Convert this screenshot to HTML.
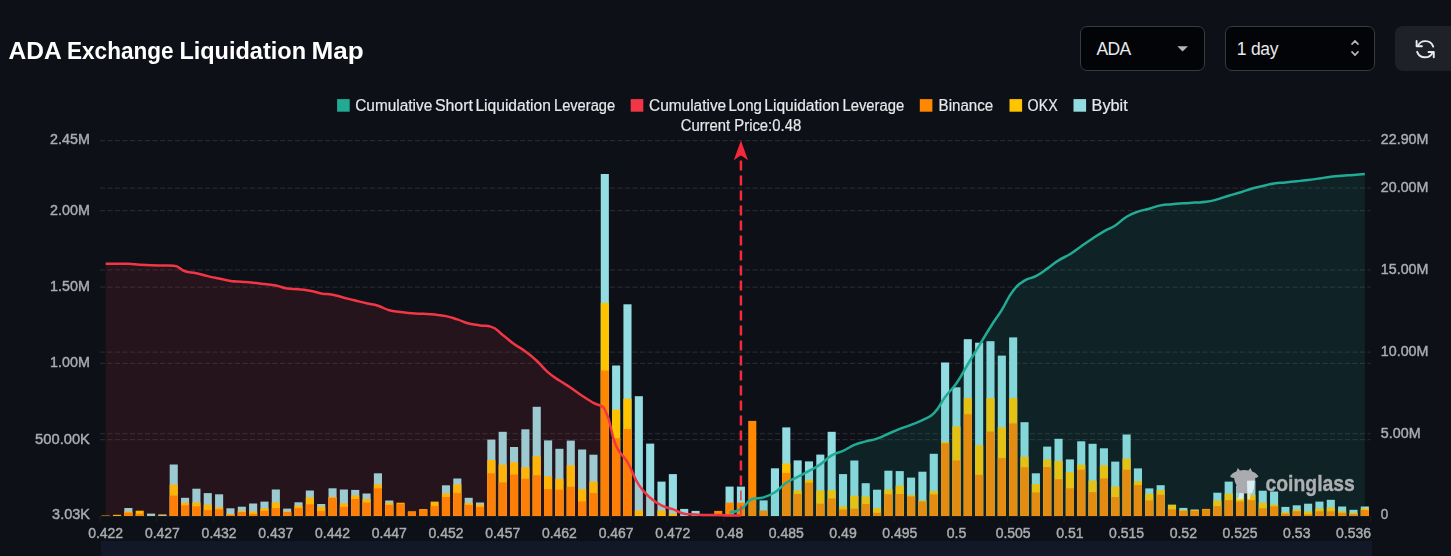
<!DOCTYPE html>
<html><head><meta charset="utf-8"><title>ADA Exchange Liquidation Map</title>
<style>
html,body{margin:0;padding:0;background:#0d1017;}
body{width:1451px;height:556px;position:relative;overflow:hidden;font-family:"Liberation Sans",sans-serif;}
.title{position:absolute;left:8.5px;top:37.3px;font-weight:700;font-size:24px;line-height:28px;color:#fff;white-space:nowrap;letter-spacing:-0.22px}
.sel{position:absolute;top:26px;height:45px;box-sizing:border-box;border:1.25px solid #363a41;border-radius:7px;background:#020408;color:#e8eaed;font-size:17.5px;line-height:45.5px;}
.btn{position:absolute;left:1395px;top:26px;width:62px;height:45px;border-radius:8px;background:#1e2228;}
</style></head><body>
<div class="sel" style="left:1080px;width:125px;padding-left:15.5px;letter-spacing:-0.6px">ADA
<svg width="12" height="7" viewBox="0 0 12 7" style="position:absolute;left:96px;top:19px"><path d="M0.3,0.2 L10.9,0.2 L5.6,5.6 Z" fill="#b4b7bc"/></svg></div>
<div class="sel" style="left:1225px;width:150px;padding-left:10.8px;letter-spacing:-0.25px">1 day
<svg width="10" height="18" viewBox="0 0 10 18" style="position:absolute;left:125px;top:12px"><path d="M1.0,5.1 L4,1.9 L7.0,5.1 M1.0,12.9 L4,16.1 L7.0,12.9" fill="none" stroke="#b4b7bc" stroke-width="1.6" stroke-linecap="round" stroke-linejoin="round"/></svg></div>
<div class="btn"><svg width="26.4" height="26.4" viewBox="0 0 24 24" style="position:absolute;left:16.6px;top:9.6px"><g fill="none" stroke="#e8eaed" stroke-width="1.75" stroke-linecap="round" stroke-linejoin="round"><path d="M4.2,4.6 L4.2,9.4 L9,9.4"/><path d="M19.8,19.4 L19.8,14.6 L15,14.6"/><path d="M5.2,9.2 A7.6,7.6 0 0 1 19.3,9.6"/><path d="M18.8,14.8 A7.6,7.6 0 0 1 4.7,14.4"/></g></svg></div>
<svg width="1451" height="556" viewBox="0 0 1451 556" style="position:absolute;left:0;top:0;will-change:transform">
<rect x="101" y="541" width="1271" height="20" fill="#121828"/>
<line x1="100.0" x2="1370.5" y1="140.5" y2="140.5" stroke="#25282e" stroke-width="1.25" stroke-dasharray="5 2.5"/>
<line x1="100.0" x2="1370.5" y1="210.7" y2="210.7" stroke="#25282e" stroke-width="1.25" stroke-dasharray="5 2.5"/>
<line x1="100.0" x2="1370.5" y1="287.0" y2="287.0" stroke="#25282e" stroke-width="1.25" stroke-dasharray="5 2.5"/>
<line x1="100.0" x2="1370.5" y1="363.4" y2="363.4" stroke="#25282e" stroke-width="1.25" stroke-dasharray="5 2.5"/>
<line x1="100.0" x2="1370.5" y1="439.7" y2="439.7" stroke="#25282e" stroke-width="1.25" stroke-dasharray="5 2.5"/>
<line x1="100.0" x2="1370.5" y1="188.1" y2="188.1" stroke="#25282e" stroke-width="1.25" stroke-dasharray="5 2.5"/>
<line x1="100.0" x2="1370.5" y1="269.8" y2="269.8" stroke="#25282e" stroke-width="1.25" stroke-dasharray="5 2.5"/>
<line x1="100.0" x2="1370.5" y1="352.0" y2="352.0" stroke="#25282e" stroke-width="1.25" stroke-dasharray="5 2.5"/>
<line x1="100.0" x2="1370.5" y1="433.6" y2="433.6" stroke="#25282e" stroke-width="1.25" stroke-dasharray="5 2.5"/>
<line x1="100.0" x2="1370.5" y1="516.4" y2="516.4" stroke="#181c23" stroke-width="1.25"/>
<line x1="100.00" x2="100.00" y1="516" y2="522" stroke="#181c23" stroke-width="1.25"/>
<line x1="156.72" x2="156.72" y1="516" y2="522" stroke="#181c23" stroke-width="1.25"/>
<line x1="213.44" x2="213.44" y1="516" y2="522" stroke="#181c23" stroke-width="1.25"/>
<line x1="270.16" x2="270.16" y1="516" y2="522" stroke="#181c23" stroke-width="1.25"/>
<line x1="326.88" x2="326.88" y1="516" y2="522" stroke="#181c23" stroke-width="1.25"/>
<line x1="383.59" x2="383.59" y1="516" y2="522" stroke="#181c23" stroke-width="1.25"/>
<line x1="440.31" x2="440.31" y1="516" y2="522" stroke="#181c23" stroke-width="1.25"/>
<line x1="497.03" x2="497.03" y1="516" y2="522" stroke="#181c23" stroke-width="1.25"/>
<line x1="553.75" x2="553.75" y1="516" y2="522" stroke="#181c23" stroke-width="1.25"/>
<line x1="610.47" x2="610.47" y1="516" y2="522" stroke="#181c23" stroke-width="1.25"/>
<line x1="667.19" x2="667.19" y1="516" y2="522" stroke="#181c23" stroke-width="1.25"/>
<line x1="723.91" x2="723.91" y1="516" y2="522" stroke="#181c23" stroke-width="1.25"/>
<line x1="780.62" x2="780.62" y1="516" y2="522" stroke="#181c23" stroke-width="1.25"/>
<line x1="837.34" x2="837.34" y1="516" y2="522" stroke="#181c23" stroke-width="1.25"/>
<line x1="894.06" x2="894.06" y1="516" y2="522" stroke="#181c23" stroke-width="1.25"/>
<line x1="950.78" x2="950.78" y1="516" y2="522" stroke="#181c23" stroke-width="1.25"/>
<line x1="1007.50" x2="1007.50" y1="516" y2="522" stroke="#181c23" stroke-width="1.25"/>
<line x1="1064.22" x2="1064.22" y1="516" y2="522" stroke="#181c23" stroke-width="1.25"/>
<line x1="1120.94" x2="1120.94" y1="516" y2="522" stroke="#181c23" stroke-width="1.25"/>
<line x1="1177.66" x2="1177.66" y1="516" y2="522" stroke="#181c23" stroke-width="1.25"/>
<line x1="1234.38" x2="1234.38" y1="516" y2="522" stroke="#181c23" stroke-width="1.25"/>
<line x1="1291.09" x2="1291.09" y1="516" y2="522" stroke="#181c23" stroke-width="1.25"/>
<line x1="1347.81" x2="1347.81" y1="516" y2="522" stroke="#181c23" stroke-width="1.25"/>
<line x1="1370.5" x2="1370.5" y1="516" y2="522" stroke="#181c23" stroke-width="1.25"/>
<rect x="101.62" y="515.65" width="8.1" height="0.35" fill="#ffc400"/>
<rect x="101.62" y="515.75" width="8.1" height="0.25" fill="#ff8800"/>
<rect x="112.97" y="514.80" width="8.1" height="1.20" fill="#ffc400"/>
<rect x="112.97" y="515.70" width="8.1" height="0.30" fill="#ff8800"/>
<rect x="124.31" y="508.00" width="8.1" height="8.00" fill="#93dce2"/>
<rect x="124.31" y="511.60" width="8.1" height="4.40" fill="#ffc400"/>
<rect x="124.31" y="512.60" width="8.1" height="3.40" fill="#ff8800"/>
<rect x="135.65" y="510.70" width="8.1" height="5.30" fill="#ffc400"/>
<rect x="135.65" y="513.80" width="8.1" height="2.20" fill="#ff8800"/>
<rect x="147.00" y="513.60" width="8.1" height="2.40" fill="#93dce2"/>
<rect x="147.00" y="515.80" width="8.1" height="0.20" fill="#ffc400"/>
<rect x="147.00" y="515.90" width="8.1" height="0.10" fill="#ff8800"/>
<rect x="158.34" y="514.40" width="8.1" height="1.60" fill="#93dce2"/>
<rect x="158.34" y="515.20" width="8.1" height="0.80" fill="#ffc400"/>
<rect x="158.34" y="515.80" width="8.1" height="0.20" fill="#ff8800"/>
<rect x="169.68" y="464.50" width="8.1" height="51.50" fill="#93dce2"/>
<rect x="169.68" y="484.70" width="8.1" height="31.30" fill="#ffc400"/>
<rect x="169.68" y="495.60" width="8.1" height="20.40" fill="#ff8800"/>
<rect x="181.03" y="497.80" width="8.1" height="18.20" fill="#93dce2"/>
<rect x="181.03" y="502.50" width="8.1" height="13.50" fill="#ffc400"/>
<rect x="181.03" y="505.30" width="8.1" height="10.70" fill="#ff8800"/>
<rect x="192.37" y="488.70" width="8.1" height="27.30" fill="#93dce2"/>
<rect x="192.37" y="502.50" width="8.1" height="13.50" fill="#ffc400"/>
<rect x="192.37" y="506.30" width="8.1" height="9.70" fill="#ff8800"/>
<rect x="203.72" y="493.10" width="8.1" height="22.90" fill="#93dce2"/>
<rect x="203.72" y="504.60" width="8.1" height="11.40" fill="#ffc400"/>
<rect x="203.72" y="510.10" width="8.1" height="5.90" fill="#ff8800"/>
<rect x="215.06" y="494.30" width="8.1" height="21.70" fill="#93dce2"/>
<rect x="215.06" y="507.30" width="8.1" height="8.70" fill="#ffc400"/>
<rect x="215.06" y="509.30" width="8.1" height="6.70" fill="#ff8800"/>
<rect x="226.40" y="508.30" width="8.1" height="7.70" fill="#93dce2"/>
<rect x="226.40" y="514.00" width="8.1" height="2.00" fill="#ffc400"/>
<rect x="226.40" y="514.80" width="8.1" height="1.20" fill="#ff8800"/>
<rect x="237.75" y="506.70" width="8.1" height="9.30" fill="#93dce2"/>
<rect x="237.75" y="511.00" width="8.1" height="5.00" fill="#ffc400"/>
<rect x="237.75" y="512.00" width="8.1" height="4.00" fill="#ff8800"/>
<rect x="249.09" y="503.50" width="8.1" height="12.50" fill="#93dce2"/>
<rect x="249.09" y="511.50" width="8.1" height="4.50" fill="#ffc400"/>
<rect x="249.09" y="514.00" width="8.1" height="2.00" fill="#ff8800"/>
<rect x="260.43" y="501.60" width="8.1" height="14.40" fill="#93dce2"/>
<rect x="260.43" y="508.30" width="8.1" height="7.70" fill="#ffc400"/>
<rect x="260.43" y="510.90" width="8.1" height="5.10" fill="#ff8800"/>
<rect x="271.78" y="489.50" width="8.1" height="26.50" fill="#93dce2"/>
<rect x="271.78" y="502.40" width="8.1" height="13.60" fill="#ffc400"/>
<rect x="271.78" y="508.10" width="8.1" height="7.90" fill="#ff8800"/>
<rect x="283.12" y="508.60" width="8.1" height="7.40" fill="#93dce2"/>
<rect x="283.12" y="511.40" width="8.1" height="4.60" fill="#ffc400"/>
<rect x="283.12" y="512.00" width="8.1" height="4.00" fill="#ff8800"/>
<rect x="294.47" y="502.30" width="8.1" height="13.70" fill="#93dce2"/>
<rect x="294.47" y="505.70" width="8.1" height="10.30" fill="#ffc400"/>
<rect x="294.47" y="508.10" width="8.1" height="7.90" fill="#ff8800"/>
<rect x="305.81" y="490.50" width="8.1" height="25.50" fill="#93dce2"/>
<rect x="305.81" y="497.40" width="8.1" height="18.60" fill="#ffc400"/>
<rect x="305.81" y="504.30" width="8.1" height="11.70" fill="#ff8800"/>
<rect x="317.15" y="504.00" width="8.1" height="12.00" fill="#93dce2"/>
<rect x="317.15" y="506.60" width="8.1" height="9.40" fill="#ffc400"/>
<rect x="317.15" y="511.10" width="8.1" height="4.90" fill="#ff8800"/>
<rect x="328.50" y="488.30" width="8.1" height="27.70" fill="#93dce2"/>
<rect x="328.50" y="497.00" width="8.1" height="19.00" fill="#ffc400"/>
<rect x="328.50" y="497.80" width="8.1" height="18.20" fill="#ff8800"/>
<rect x="339.84" y="489.50" width="8.1" height="26.50" fill="#93dce2"/>
<rect x="339.84" y="503.30" width="8.1" height="12.70" fill="#ffc400"/>
<rect x="339.84" y="506.90" width="8.1" height="9.10" fill="#ff8800"/>
<rect x="351.18" y="489.90" width="8.1" height="26.10" fill="#93dce2"/>
<rect x="351.18" y="495.40" width="8.1" height="20.60" fill="#ffc400"/>
<rect x="351.18" y="499.00" width="8.1" height="17.00" fill="#ff8800"/>
<rect x="362.53" y="493.50" width="8.1" height="22.50" fill="#93dce2"/>
<rect x="362.53" y="499.00" width="8.1" height="17.00" fill="#ffc400"/>
<rect x="362.53" y="502.60" width="8.1" height="13.40" fill="#ff8800"/>
<rect x="373.87" y="473.30" width="8.1" height="42.70" fill="#93dce2"/>
<rect x="373.87" y="484.30" width="8.1" height="31.70" fill="#ffc400"/>
<rect x="373.87" y="488.30" width="8.1" height="27.70" fill="#ff8800"/>
<rect x="385.22" y="500.50" width="8.1" height="15.50" fill="#93dce2"/>
<rect x="385.22" y="502.90" width="8.1" height="13.10" fill="#ffc400"/>
<rect x="385.22" y="504.90" width="8.1" height="11.10" fill="#ff8800"/>
<rect x="396.56" y="502.70" width="8.1" height="13.30" fill="#ffc400"/>
<rect x="396.56" y="503.70" width="8.1" height="12.30" fill="#ff8800"/>
<rect x="407.90" y="511.40" width="8.1" height="4.60" fill="#ffc400"/>
<rect x="407.90" y="511.70" width="8.1" height="4.30" fill="#ff8800"/>
<rect x="419.25" y="509.10" width="8.1" height="6.90" fill="#ffc400"/>
<rect x="419.25" y="509.70" width="8.1" height="6.30" fill="#ff8800"/>
<rect x="430.59" y="501.60" width="8.1" height="14.40" fill="#ffc400"/>
<rect x="430.59" y="506.10" width="8.1" height="9.90" fill="#ff8800"/>
<rect x="441.93" y="485.30" width="8.1" height="30.70" fill="#93dce2"/>
<rect x="441.93" y="493.40" width="8.1" height="22.60" fill="#ffc400"/>
<rect x="441.93" y="497.00" width="8.1" height="19.00" fill="#ff8800"/>
<rect x="453.28" y="478.50" width="8.1" height="37.50" fill="#93dce2"/>
<rect x="453.28" y="484.40" width="8.1" height="31.60" fill="#ffc400"/>
<rect x="453.28" y="493.10" width="8.1" height="22.90" fill="#ff8800"/>
<rect x="464.62" y="497.80" width="8.1" height="18.20" fill="#93dce2"/>
<rect x="464.62" y="502.90" width="8.1" height="13.10" fill="#ffc400"/>
<rect x="464.62" y="504.90" width="8.1" height="11.10" fill="#ff8800"/>
<rect x="475.97" y="502.50" width="8.1" height="13.50" fill="#93dce2"/>
<rect x="475.97" y="504.50" width="8.1" height="11.50" fill="#ffc400"/>
<rect x="475.97" y="506.90" width="8.1" height="9.10" fill="#ff8800"/>
<rect x="487.31" y="439.60" width="8.1" height="76.40" fill="#93dce2"/>
<rect x="487.31" y="460.00" width="8.1" height="56.00" fill="#ffc400"/>
<rect x="487.31" y="473.30" width="8.1" height="42.70" fill="#ff8800"/>
<rect x="498.65" y="431.80" width="8.1" height="84.20" fill="#93dce2"/>
<rect x="498.65" y="464.60" width="8.1" height="51.40" fill="#ffc400"/>
<rect x="498.65" y="482.40" width="8.1" height="33.60" fill="#ff8800"/>
<rect x="510.00" y="447.00" width="8.1" height="69.00" fill="#93dce2"/>
<rect x="510.00" y="462.20" width="8.1" height="53.80" fill="#ffc400"/>
<rect x="510.00" y="474.50" width="8.1" height="41.50" fill="#ff8800"/>
<rect x="521.34" y="429.30" width="8.1" height="86.70" fill="#93dce2"/>
<rect x="521.34" y="467.30" width="8.1" height="48.70" fill="#ffc400"/>
<rect x="521.34" y="478.80" width="8.1" height="37.20" fill="#ff8800"/>
<rect x="532.68" y="406.80" width="8.1" height="109.20" fill="#93dce2"/>
<rect x="532.68" y="456.30" width="8.1" height="59.70" fill="#ffc400"/>
<rect x="532.68" y="475.30" width="8.1" height="40.70" fill="#ff8800"/>
<rect x="544.03" y="440.40" width="8.1" height="75.60" fill="#93dce2"/>
<rect x="544.03" y="476.20" width="8.1" height="39.80" fill="#ffc400"/>
<rect x="544.03" y="489.10" width="8.1" height="26.90" fill="#ff8800"/>
<rect x="555.37" y="448.80" width="8.1" height="67.20" fill="#93dce2"/>
<rect x="555.37" y="478.80" width="8.1" height="37.20" fill="#ffc400"/>
<rect x="555.37" y="489.70" width="8.1" height="26.30" fill="#ff8800"/>
<rect x="566.72" y="440.60" width="8.1" height="75.40" fill="#93dce2"/>
<rect x="566.72" y="465.30" width="8.1" height="50.70" fill="#ffc400"/>
<rect x="566.72" y="486.70" width="8.1" height="29.30" fill="#ff8800"/>
<rect x="578.06" y="449.50" width="8.1" height="66.50" fill="#93dce2"/>
<rect x="578.06" y="489.10" width="8.1" height="26.90" fill="#ffc400"/>
<rect x="578.06" y="501.40" width="8.1" height="14.60" fill="#ff8800"/>
<rect x="589.40" y="454.70" width="8.1" height="61.30" fill="#93dce2"/>
<rect x="589.40" y="481.60" width="8.1" height="34.40" fill="#ffc400"/>
<rect x="589.40" y="493.10" width="8.1" height="22.90" fill="#ff8800"/>
<rect x="600.75" y="174.00" width="8.1" height="342.00" fill="#93dce2"/>
<rect x="600.75" y="303.00" width="8.1" height="213.00" fill="#ffc400"/>
<rect x="600.75" y="370.50" width="8.1" height="145.50" fill="#ff8800"/>
<rect x="612.09" y="365.50" width="8.1" height="150.50" fill="#93dce2"/>
<rect x="612.09" y="409.60" width="8.1" height="106.40" fill="#ffc400"/>
<rect x="612.09" y="438.20" width="8.1" height="77.80" fill="#ff8800"/>
<rect x="623.43" y="304.30" width="8.1" height="211.70" fill="#93dce2"/>
<rect x="623.43" y="398.70" width="8.1" height="117.30" fill="#ffc400"/>
<rect x="623.43" y="428.90" width="8.1" height="87.10" fill="#ff8800"/>
<rect x="634.78" y="396.20" width="8.1" height="119.80" fill="#93dce2"/>
<rect x="634.78" y="510.50" width="8.1" height="5.50" fill="#ffc400"/>
<rect x="646.12" y="443.60" width="8.1" height="72.40" fill="#93dce2"/>
<rect x="657.47" y="481.60" width="8.1" height="34.40" fill="#93dce2"/>
<rect x="657.47" y="510.50" width="8.1" height="5.50" fill="#ffc400"/>
<rect x="668.81" y="474.10" width="8.1" height="41.90" fill="#93dce2"/>
<rect x="668.81" y="513.60" width="8.1" height="2.40" fill="#ffc400"/>
<rect x="680.15" y="508.90" width="8.1" height="7.10" fill="#93dce2"/>
<rect x="691.50" y="510.90" width="8.1" height="5.10" fill="#93dce2"/>
<rect x="714.18" y="510.90" width="8.1" height="5.10" fill="#ff8800"/>
<rect x="725.53" y="486.60" width="8.1" height="29.40" fill="#93dce2"/>
<rect x="725.53" y="502.60" width="8.1" height="13.40" fill="#ff8800"/>
<rect x="736.87" y="486.60" width="8.1" height="29.40" fill="#93dce2"/>
<rect x="736.87" y="502.60" width="8.1" height="13.40" fill="#ff8800"/>
<rect x="748.22" y="420.90" width="8.1" height="95.10" fill="#ff8800"/>
<rect x="759.56" y="500.40" width="8.1" height="15.60" fill="#93dce2"/>
<rect x="759.56" y="510.50" width="8.1" height="5.50" fill="#ff8800"/>
<rect x="770.90" y="468.30" width="8.1" height="47.70" fill="#93dce2"/>
<rect x="782.25" y="427.40" width="8.1" height="88.60" fill="#93dce2"/>
<rect x="782.25" y="463.40" width="8.1" height="52.60" fill="#ffc400"/>
<rect x="782.25" y="472.90" width="8.1" height="43.10" fill="#ff8800"/>
<rect x="793.59" y="460.40" width="8.1" height="55.60" fill="#93dce2"/>
<rect x="793.59" y="490.40" width="8.1" height="25.60" fill="#ffc400"/>
<rect x="793.59" y="494.00" width="8.1" height="22.00" fill="#ff8800"/>
<rect x="804.93" y="461.40" width="8.1" height="54.60" fill="#93dce2"/>
<rect x="804.93" y="479.80" width="8.1" height="36.20" fill="#ffc400"/>
<rect x="804.93" y="482.80" width="8.1" height="33.20" fill="#ff8800"/>
<rect x="816.28" y="454.60" width="8.1" height="61.40" fill="#93dce2"/>
<rect x="816.28" y="490.40" width="8.1" height="25.60" fill="#ffc400"/>
<rect x="816.28" y="503.70" width="8.1" height="12.30" fill="#ff8800"/>
<rect x="827.62" y="431.80" width="8.1" height="84.20" fill="#93dce2"/>
<rect x="827.62" y="490.10" width="8.1" height="25.90" fill="#ffc400"/>
<rect x="827.62" y="498.40" width="8.1" height="17.60" fill="#ff8800"/>
<rect x="838.97" y="474.10" width="8.1" height="41.90" fill="#93dce2"/>
<rect x="838.97" y="506.30" width="8.1" height="9.70" fill="#ffc400"/>
<rect x="838.97" y="509.50" width="8.1" height="6.50" fill="#ff8800"/>
<rect x="850.31" y="460.50" width="8.1" height="55.50" fill="#93dce2"/>
<rect x="850.31" y="495.70" width="8.1" height="20.30" fill="#ffc400"/>
<rect x="850.31" y="508.70" width="8.1" height="7.30" fill="#ff8800"/>
<rect x="861.65" y="483.20" width="8.1" height="32.80" fill="#93dce2"/>
<rect x="861.65" y="496.50" width="8.1" height="19.50" fill="#ffc400"/>
<rect x="861.65" y="504.00" width="8.1" height="12.00" fill="#ff8800"/>
<rect x="873.00" y="489.70" width="8.1" height="26.30" fill="#93dce2"/>
<rect x="873.00" y="508.10" width="8.1" height="7.90" fill="#ffc400"/>
<rect x="873.00" y="512.80" width="8.1" height="3.20" fill="#ff8800"/>
<rect x="884.34" y="470.70" width="8.1" height="45.30" fill="#93dce2"/>
<rect x="884.34" y="489.50" width="8.1" height="26.50" fill="#ffc400"/>
<rect x="884.34" y="494.20" width="8.1" height="21.80" fill="#ff8800"/>
<rect x="895.68" y="471.10" width="8.1" height="44.90" fill="#93dce2"/>
<rect x="895.68" y="485.70" width="8.1" height="30.30" fill="#ffc400"/>
<rect x="895.68" y="494.00" width="8.1" height="22.00" fill="#ff8800"/>
<rect x="907.03" y="477.60" width="8.1" height="38.40" fill="#93dce2"/>
<rect x="907.03" y="495.00" width="8.1" height="21.00" fill="#ffc400"/>
<rect x="907.03" y="496.40" width="8.1" height="19.60" fill="#ff8800"/>
<rect x="918.37" y="471.70" width="8.1" height="44.30" fill="#93dce2"/>
<rect x="918.37" y="500.60" width="8.1" height="15.40" fill="#ffc400"/>
<rect x="918.37" y="501.40" width="8.1" height="14.60" fill="#ff8800"/>
<rect x="929.72" y="453.80" width="8.1" height="62.20" fill="#93dce2"/>
<rect x="929.72" y="491.00" width="8.1" height="25.00" fill="#ffc400"/>
<rect x="929.72" y="494.40" width="8.1" height="21.60" fill="#ff8800"/>
<rect x="941.06" y="362.50" width="8.1" height="153.50" fill="#93dce2"/>
<rect x="941.06" y="442.00" width="8.1" height="74.00" fill="#ffc400"/>
<rect x="941.06" y="443.20" width="8.1" height="72.80" fill="#ff8800"/>
<rect x="952.40" y="387.30" width="8.1" height="128.70" fill="#93dce2"/>
<rect x="952.40" y="426.40" width="8.1" height="89.60" fill="#ffc400"/>
<rect x="952.40" y="460.40" width="8.1" height="55.60" fill="#ff8800"/>
<rect x="963.75" y="339.20" width="8.1" height="176.80" fill="#93dce2"/>
<rect x="963.75" y="398.10" width="8.1" height="117.90" fill="#ffc400"/>
<rect x="963.75" y="414.20" width="8.1" height="101.80" fill="#ff8800"/>
<rect x="975.09" y="342.70" width="8.1" height="173.30" fill="#93dce2"/>
<rect x="975.09" y="445.20" width="8.1" height="70.80" fill="#ffc400"/>
<rect x="975.09" y="474.90" width="8.1" height="41.10" fill="#ff8800"/>
<rect x="986.43" y="341.20" width="8.1" height="174.80" fill="#93dce2"/>
<rect x="986.43" y="398.10" width="8.1" height="117.90" fill="#ffc400"/>
<rect x="986.43" y="431.50" width="8.1" height="84.50" fill="#ff8800"/>
<rect x="997.78" y="355.60" width="8.1" height="160.40" fill="#93dce2"/>
<rect x="997.78" y="427.30" width="8.1" height="88.70" fill="#ffc400"/>
<rect x="997.78" y="458.00" width="8.1" height="58.00" fill="#ff8800"/>
<rect x="1009.12" y="337.40" width="8.1" height="178.60" fill="#93dce2"/>
<rect x="1009.12" y="398.10" width="8.1" height="117.90" fill="#ffc400"/>
<rect x="1009.12" y="423.40" width="8.1" height="92.60" fill="#ff8800"/>
<rect x="1020.47" y="422.20" width="8.1" height="93.80" fill="#93dce2"/>
<rect x="1020.47" y="456.80" width="8.1" height="59.20" fill="#ffc400"/>
<rect x="1020.47" y="467.30" width="8.1" height="48.70" fill="#ff8800"/>
<rect x="1031.81" y="473.30" width="8.1" height="42.70" fill="#93dce2"/>
<rect x="1031.81" y="484.00" width="8.1" height="32.00" fill="#ffc400"/>
<rect x="1031.81" y="492.50" width="8.1" height="23.50" fill="#ff8800"/>
<rect x="1043.15" y="446.60" width="8.1" height="69.40" fill="#93dce2"/>
<rect x="1043.15" y="459.50" width="8.1" height="56.50" fill="#ffc400"/>
<rect x="1043.15" y="467.00" width="8.1" height="49.00" fill="#ff8800"/>
<rect x="1054.50" y="438.80" width="8.1" height="77.20" fill="#93dce2"/>
<rect x="1054.50" y="461.00" width="8.1" height="55.00" fill="#ffc400"/>
<rect x="1054.50" y="479.20" width="8.1" height="36.80" fill="#ff8800"/>
<rect x="1065.84" y="459.40" width="8.1" height="56.60" fill="#93dce2"/>
<rect x="1065.84" y="472.10" width="8.1" height="43.90" fill="#ffc400"/>
<rect x="1065.84" y="488.30" width="8.1" height="27.70" fill="#ff8800"/>
<rect x="1077.18" y="441.30" width="8.1" height="74.70" fill="#93dce2"/>
<rect x="1077.18" y="464.60" width="8.1" height="51.40" fill="#ffc400"/>
<rect x="1077.18" y="469.70" width="8.1" height="46.30" fill="#ff8800"/>
<rect x="1088.53" y="443.80" width="8.1" height="72.20" fill="#93dce2"/>
<rect x="1088.53" y="480.60" width="8.1" height="35.40" fill="#ffc400"/>
<rect x="1088.53" y="492.10" width="8.1" height="23.90" fill="#ff8800"/>
<rect x="1099.87" y="448.30" width="8.1" height="67.70" fill="#93dce2"/>
<rect x="1099.87" y="465.30" width="8.1" height="50.70" fill="#ffc400"/>
<rect x="1099.87" y="478.40" width="8.1" height="37.60" fill="#ff8800"/>
<rect x="1111.22" y="461.60" width="8.1" height="54.40" fill="#93dce2"/>
<rect x="1111.22" y="486.50" width="8.1" height="29.50" fill="#ffc400"/>
<rect x="1111.22" y="497.00" width="8.1" height="19.00" fill="#ff8800"/>
<rect x="1122.56" y="434.50" width="8.1" height="81.50" fill="#93dce2"/>
<rect x="1122.56" y="458.60" width="8.1" height="57.40" fill="#ffc400"/>
<rect x="1122.56" y="469.70" width="8.1" height="46.30" fill="#ff8800"/>
<rect x="1133.90" y="468.40" width="8.1" height="47.60" fill="#93dce2"/>
<rect x="1133.90" y="481.30" width="8.1" height="34.70" fill="#ffc400"/>
<rect x="1133.90" y="485.10" width="8.1" height="30.90" fill="#ff8800"/>
<rect x="1145.25" y="488.40" width="8.1" height="27.60" fill="#93dce2"/>
<rect x="1145.25" y="493.70" width="8.1" height="22.30" fill="#ffc400"/>
<rect x="1145.25" y="500.40" width="8.1" height="15.60" fill="#ff8800"/>
<rect x="1156.59" y="485.20" width="8.1" height="30.80" fill="#93dce2"/>
<rect x="1156.59" y="490.10" width="8.1" height="25.90" fill="#ffc400"/>
<rect x="1156.59" y="494.80" width="8.1" height="21.20" fill="#ff8800"/>
<rect x="1167.93" y="504.70" width="8.1" height="11.30" fill="#93dce2"/>
<rect x="1167.93" y="504.90" width="8.1" height="11.10" fill="#ffc400"/>
<rect x="1167.93" y="509.30" width="8.1" height="6.70" fill="#ff8800"/>
<rect x="1179.28" y="507.90" width="8.1" height="8.10" fill="#93dce2"/>
<rect x="1179.28" y="510.10" width="8.1" height="5.90" fill="#ffc400"/>
<rect x="1179.28" y="510.90" width="8.1" height="5.10" fill="#ff8800"/>
<rect x="1190.62" y="509.50" width="8.1" height="6.50" fill="#93dce2"/>
<rect x="1190.62" y="509.90" width="8.1" height="6.10" fill="#ffc400"/>
<rect x="1190.62" y="510.90" width="8.1" height="5.10" fill="#ff8800"/>
<rect x="1201.97" y="508.90" width="8.1" height="7.10" fill="#ffc400"/>
<rect x="1201.97" y="509.30" width="8.1" height="6.70" fill="#ff8800"/>
<rect x="1213.31" y="492.70" width="8.1" height="23.30" fill="#93dce2"/>
<rect x="1213.31" y="500.60" width="8.1" height="15.40" fill="#ffc400"/>
<rect x="1213.31" y="506.10" width="8.1" height="9.90" fill="#ff8800"/>
<rect x="1224.65" y="481.60" width="8.1" height="34.40" fill="#93dce2"/>
<rect x="1224.65" y="493.70" width="8.1" height="22.30" fill="#ffc400"/>
<rect x="1224.65" y="500.20" width="8.1" height="15.80" fill="#ff8800"/>
<rect x="1236.00" y="486.00" width="8.1" height="30.00" fill="#93dce2"/>
<rect x="1236.00" y="497.50" width="8.1" height="18.50" fill="#ffc400"/>
<rect x="1236.00" y="501.50" width="8.1" height="14.50" fill="#ff8800"/>
<rect x="1247.34" y="481.20" width="8.1" height="34.80" fill="#93dce2"/>
<rect x="1247.34" y="494.90" width="8.1" height="21.10" fill="#ffc400"/>
<rect x="1247.34" y="500.20" width="8.1" height="15.80" fill="#ff8800"/>
<rect x="1258.68" y="490.70" width="8.1" height="25.30" fill="#93dce2"/>
<rect x="1258.68" y="502.60" width="8.1" height="13.40" fill="#ffc400"/>
<rect x="1258.68" y="508.30" width="8.1" height="7.70" fill="#ff8800"/>
<rect x="1270.03" y="491.50" width="8.1" height="24.50" fill="#93dce2"/>
<rect x="1270.03" y="504.50" width="8.1" height="11.50" fill="#ffc400"/>
<rect x="1270.03" y="506.30" width="8.1" height="9.70" fill="#ff8800"/>
<rect x="1281.37" y="506.90" width="8.1" height="9.10" fill="#93dce2"/>
<rect x="1281.37" y="512.40" width="8.1" height="3.60" fill="#ffc400"/>
<rect x="1281.37" y="513.60" width="8.1" height="2.40" fill="#ff8800"/>
<rect x="1292.72" y="505.30" width="8.1" height="10.70" fill="#93dce2"/>
<rect x="1292.72" y="509.70" width="8.1" height="6.30" fill="#ffc400"/>
<rect x="1292.72" y="511.30" width="8.1" height="4.70" fill="#ff8800"/>
<rect x="1304.06" y="503.70" width="8.1" height="12.30" fill="#93dce2"/>
<rect x="1304.06" y="511.40" width="8.1" height="4.60" fill="#ffc400"/>
<rect x="1304.06" y="514.40" width="8.1" height="1.60" fill="#ff8800"/>
<rect x="1315.40" y="501.60" width="8.1" height="14.40" fill="#93dce2"/>
<rect x="1315.40" y="508.50" width="8.1" height="7.50" fill="#ffc400"/>
<rect x="1315.40" y="511.30" width="8.1" height="4.70" fill="#ff8800"/>
<rect x="1326.75" y="499.80" width="8.1" height="16.20" fill="#93dce2"/>
<rect x="1326.75" y="507.30" width="8.1" height="8.70" fill="#ffc400"/>
<rect x="1326.75" y="511.30" width="8.1" height="4.70" fill="#ff8800"/>
<rect x="1338.09" y="506.50" width="8.1" height="9.50" fill="#93dce2"/>
<rect x="1338.09" y="511.20" width="8.1" height="4.80" fill="#ffc400"/>
<rect x="1338.09" y="512.80" width="8.1" height="3.20" fill="#ff8800"/>
<rect x="1349.43" y="509.80" width="8.1" height="6.20" fill="#93dce2"/>
<rect x="1349.43" y="512.80" width="8.1" height="3.20" fill="#ffc400"/>
<rect x="1349.43" y="514.00" width="8.1" height="2.00" fill="#ff8800"/>
<rect x="1360.78" y="506.50" width="8.1" height="9.50" fill="#93dce2"/>
<rect x="1360.78" y="508.50" width="8.1" height="7.50" fill="#ffc400"/>
<rect x="1360.78" y="510.00" width="8.1" height="6.00" fill="#ff8800"/>
<path d="M729.58,512.35 C729.58,512.35 735.98,512.11 740.92,509.20 C747.32,505.44 745.79,501.24 752.27,499.02 C757.14,497.35 758.17,498.97 763.61,497.35 C769.51,495.58 769.77,495.57 774.95,492.24 C781.11,488.27 780.22,486.89 786.30,482.75 C791.56,479.16 791.96,479.75 797.64,476.79 C803.30,473.85 803.39,474.01 808.98,470.95 C814.73,467.80 814.94,468.07 820.33,464.37 C826.28,460.28 825.51,459.02 831.67,455.35 C836.86,452.27 837.48,453.41 843.02,450.87 C848.83,448.19 848.47,447.37 854.36,444.92 C859.82,442.65 859.99,443.00 865.70,441.41 C871.33,439.84 871.53,440.46 877.05,438.59 C882.87,436.62 882.71,436.16 888.39,433.74 C894.06,431.33 894.00,431.18 899.73,428.93 C905.35,426.72 905.46,427.01 911.08,424.82 C916.80,422.58 916.94,422.83 922.42,420.07 C928.29,417.13 929.26,418.00 933.77,413.41 C940.60,406.45 939.12,404.95 945.11,396.97 C950.46,389.84 951.38,390.50 956.45,383.19 C962.72,374.14 962.08,373.70 967.80,364.25 C973.43,354.95 973.49,354.98 979.14,345.69 C984.83,336.34 984.64,336.22 990.48,326.97 C995.98,318.27 996.38,318.52 1001.83,309.79 C1007.72,300.37 1006.43,299.34 1013.17,290.66 C1017.77,284.75 1018.24,284.66 1024.52,280.62 C1029.58,277.35 1030.48,278.89 1035.86,276.05 C1041.82,272.89 1041.63,272.47 1047.20,268.61 C1052.97,264.62 1052.63,264.08 1058.55,260.34 C1063.97,256.92 1064.43,257.66 1069.89,254.28 C1075.78,250.63 1075.53,250.24 1081.23,246.28 C1086.87,242.37 1086.85,242.33 1092.58,238.55 C1098.19,234.84 1098.10,234.66 1103.92,231.30 C1109.44,228.12 1109.92,228.90 1115.27,225.47 C1121.26,221.62 1120.54,220.44 1126.61,216.74 C1131.88,213.53 1132.11,213.72 1137.95,211.65 C1143.46,209.69 1143.65,210.25 1149.30,208.69 C1154.99,207.12 1154.87,206.54 1160.64,205.39 C1166.21,204.28 1166.30,204.70 1171.98,204.18 C1177.65,203.66 1177.65,203.71 1183.33,203.31 C1189.00,202.92 1189.00,202.98 1194.67,202.62 C1200.34,202.25 1200.40,202.62 1206.02,201.86 C1211.75,201.08 1211.76,200.89 1217.36,199.36 C1223.11,197.80 1223.00,197.41 1228.70,195.68 C1234.34,193.96 1234.41,194.19 1240.05,192.46 C1245.75,190.72 1245.65,190.37 1251.39,188.74 C1257.00,187.15 1257.06,187.36 1262.73,186.03 C1268.40,184.70 1268.34,184.31 1274.08,183.40 C1279.69,182.51 1279.75,182.96 1285.42,182.43 C1291.10,181.90 1291.10,181.90 1296.77,181.28 C1302.44,180.67 1302.44,180.68 1308.11,179.97 C1313.79,179.25 1313.79,179.24 1319.45,178.42 C1325.13,177.60 1325.10,177.38 1330.80,176.69 C1336.45,176.00 1336.46,176.09 1342.14,175.67 C1347.81,175.25 1347.82,175.43 1353.48,175.01 C1359.16,174.59 1364.83,173.99 1364.83,173.99 L1364.83,515.5 L729.58,515.5 Z" fill="#22ab94" fill-opacity="0.12"/>
<path d="M105.67,263.70 C105.67,263.70 111.34,263.70 117.02,263.74 C122.69,263.78 122.70,263.74 128.36,263.87 C134.04,264.00 134.03,264.37 139.70,264.73 C145.37,265.08 145.37,265.09 151.05,265.29 C156.72,265.50 156.72,265.44 162.39,265.55 C168.06,265.66 168.36,265.55 173.73,265.72 C179.71,265.91 179.15,269.29 185.08,271.24 C190.49,273.02 190.80,271.98 196.42,273.19 C202.14,274.42 202.07,274.76 207.77,276.11 C213.41,277.45 213.43,277.37 219.11,278.56 C224.77,279.76 224.73,280.09 230.45,280.89 C236.07,281.67 236.13,281.26 241.80,281.71 C247.47,282.17 247.48,282.12 253.14,282.71 C258.82,283.29 258.82,283.33 264.48,284.05 C270.16,284.77 270.22,284.50 275.83,285.59 C281.56,286.70 281.42,287.61 287.17,288.43 C292.76,289.22 292.86,288.66 298.52,289.22 C304.20,289.79 304.24,289.65 309.86,290.69 C315.59,291.75 315.47,292.40 321.20,293.42 C326.81,294.41 326.95,293.65 332.55,294.70 C338.29,295.78 338.21,296.22 343.89,297.67 C349.55,299.12 349.56,299.10 355.23,300.51 C360.90,301.92 360.89,302.00 366.58,303.30 C372.23,304.60 372.40,304.01 377.92,305.71 C383.74,307.50 383.41,308.68 389.27,310.29 C394.75,311.79 394.93,311.17 400.61,311.95 C406.27,312.72 406.26,312.89 411.95,313.37 C417.61,313.85 417.63,313.56 423.30,313.86 C428.97,314.17 428.99,314.03 434.64,314.60 C440.33,315.17 440.40,314.96 445.98,316.14 C451.74,317.37 451.71,317.62 457.33,319.43 C463.05,321.28 462.87,321.92 468.67,323.45 C474.22,324.91 474.33,324.55 480.02,325.40 C485.67,326.24 486.26,325.40 491.36,326.84 C497.60,328.61 497.13,330.80 502.70,335.03 C508.48,339.40 508.18,339.80 514.05,344.04 C519.53,348.01 519.94,347.43 525.39,351.43 C531.29,355.77 531.36,355.75 536.73,360.72 C542.71,366.24 541.96,367.08 548.08,372.41 C553.31,376.98 553.65,376.62 559.42,380.51 C564.99,384.26 565.20,383.96 570.77,387.71 C576.54,391.59 576.33,391.91 582.11,395.78 C587.67,399.51 587.72,399.45 593.45,402.91 C599.06,406.29 601.91,403.97 604.80,409.47 C613.25,425.57 608.65,428.68 616.14,446.10 C619.99,455.05 622.52,453.73 627.48,462.22 C633.87,473.13 632.06,474.30 638.83,484.89 C643.40,492.05 643.88,492.01 650.17,497.72 C655.22,502.30 655.44,502.41 661.52,505.48 C666.79,508.13 667.25,507.14 672.86,509.16 C678.60,511.23 678.33,512.83 684.20,513.65 C689.68,514.41 689.87,514.08 695.55,514.41 C701.22,514.73 701.22,514.95 706.89,514.95 C712.56,514.95 712.57,514.95 718.23,514.95 C723.91,514.95 723.90,515.50 729.58,515.50 C735.25,515.50 740.92,515.50 740.92,515.50 L740.92,515.5 L105.67,515.5 Z" fill="#f23645" fill-opacity="0.105"/>
<path d="M729.58,512.35 C729.58,512.35 735.98,512.11 740.92,509.20 C747.32,505.44 745.79,501.24 752.27,499.02 C757.14,497.35 758.17,498.97 763.61,497.35 C769.51,495.58 769.77,495.57 774.95,492.24 C781.11,488.27 780.22,486.89 786.30,482.75 C791.56,479.16 791.96,479.75 797.64,476.79 C803.30,473.85 803.39,474.01 808.98,470.95 C814.73,467.80 814.94,468.07 820.33,464.37 C826.28,460.28 825.51,459.02 831.67,455.35 C836.86,452.27 837.48,453.41 843.02,450.87 C848.83,448.19 848.47,447.37 854.36,444.92 C859.82,442.65 859.99,443.00 865.70,441.41 C871.33,439.84 871.53,440.46 877.05,438.59 C882.87,436.62 882.71,436.16 888.39,433.74 C894.06,431.33 894.00,431.18 899.73,428.93 C905.35,426.72 905.46,427.01 911.08,424.82 C916.80,422.58 916.94,422.83 922.42,420.07 C928.29,417.13 929.26,418.00 933.77,413.41 C940.60,406.45 939.12,404.95 945.11,396.97 C950.46,389.84 951.38,390.50 956.45,383.19 C962.72,374.14 962.08,373.70 967.80,364.25 C973.43,354.95 973.49,354.98 979.14,345.69 C984.83,336.34 984.64,336.22 990.48,326.97 C995.98,318.27 996.38,318.52 1001.83,309.79 C1007.72,300.37 1006.43,299.34 1013.17,290.66 C1017.77,284.75 1018.24,284.66 1024.52,280.62 C1029.58,277.35 1030.48,278.89 1035.86,276.05 C1041.82,272.89 1041.63,272.47 1047.20,268.61 C1052.97,264.62 1052.63,264.08 1058.55,260.34 C1063.97,256.92 1064.43,257.66 1069.89,254.28 C1075.78,250.63 1075.53,250.24 1081.23,246.28 C1086.87,242.37 1086.85,242.33 1092.58,238.55 C1098.19,234.84 1098.10,234.66 1103.92,231.30 C1109.44,228.12 1109.92,228.90 1115.27,225.47 C1121.26,221.62 1120.54,220.44 1126.61,216.74 C1131.88,213.53 1132.11,213.72 1137.95,211.65 C1143.46,209.69 1143.65,210.25 1149.30,208.69 C1154.99,207.12 1154.87,206.54 1160.64,205.39 C1166.21,204.28 1166.30,204.70 1171.98,204.18 C1177.65,203.66 1177.65,203.71 1183.33,203.31 C1189.00,202.92 1189.00,202.98 1194.67,202.62 C1200.34,202.25 1200.40,202.62 1206.02,201.86 C1211.75,201.08 1211.76,200.89 1217.36,199.36 C1223.11,197.80 1223.00,197.41 1228.70,195.68 C1234.34,193.96 1234.41,194.19 1240.05,192.46 C1245.75,190.72 1245.65,190.37 1251.39,188.74 C1257.00,187.15 1257.06,187.36 1262.73,186.03 C1268.40,184.70 1268.34,184.31 1274.08,183.40 C1279.69,182.51 1279.75,182.96 1285.42,182.43 C1291.10,181.90 1291.10,181.90 1296.77,181.28 C1302.44,180.67 1302.44,180.68 1308.11,179.97 C1313.79,179.25 1313.79,179.24 1319.45,178.42 C1325.13,177.60 1325.10,177.38 1330.80,176.69 C1336.45,176.00 1336.46,176.09 1342.14,175.67 C1347.81,175.25 1347.82,175.43 1353.48,175.01 C1359.16,174.59 1364.83,173.99 1364.83,173.99" fill="none" stroke="#22ab94" stroke-width="2.5" stroke-linejoin="round"/>
<path d="M105.67,263.70 C105.67,263.70 111.34,263.70 117.02,263.74 C122.69,263.78 122.70,263.74 128.36,263.87 C134.04,264.00 134.03,264.37 139.70,264.73 C145.37,265.08 145.37,265.09 151.05,265.29 C156.72,265.50 156.72,265.44 162.39,265.55 C168.06,265.66 168.36,265.55 173.73,265.72 C179.71,265.91 179.15,269.29 185.08,271.24 C190.49,273.02 190.80,271.98 196.42,273.19 C202.14,274.42 202.07,274.76 207.77,276.11 C213.41,277.45 213.43,277.37 219.11,278.56 C224.77,279.76 224.73,280.09 230.45,280.89 C236.07,281.67 236.13,281.26 241.80,281.71 C247.47,282.17 247.48,282.12 253.14,282.71 C258.82,283.29 258.82,283.33 264.48,284.05 C270.16,284.77 270.22,284.50 275.83,285.59 C281.56,286.70 281.42,287.61 287.17,288.43 C292.76,289.22 292.86,288.66 298.52,289.22 C304.20,289.79 304.24,289.65 309.86,290.69 C315.59,291.75 315.47,292.40 321.20,293.42 C326.81,294.41 326.95,293.65 332.55,294.70 C338.29,295.78 338.21,296.22 343.89,297.67 C349.55,299.12 349.56,299.10 355.23,300.51 C360.90,301.92 360.89,302.00 366.58,303.30 C372.23,304.60 372.40,304.01 377.92,305.71 C383.74,307.50 383.41,308.68 389.27,310.29 C394.75,311.79 394.93,311.17 400.61,311.95 C406.27,312.72 406.26,312.89 411.95,313.37 C417.61,313.85 417.63,313.56 423.30,313.86 C428.97,314.17 428.99,314.03 434.64,314.60 C440.33,315.17 440.40,314.96 445.98,316.14 C451.74,317.37 451.71,317.62 457.33,319.43 C463.05,321.28 462.87,321.92 468.67,323.45 C474.22,324.91 474.33,324.55 480.02,325.40 C485.67,326.24 486.26,325.40 491.36,326.84 C497.60,328.61 497.13,330.80 502.70,335.03 C508.48,339.40 508.18,339.80 514.05,344.04 C519.53,348.01 519.94,347.43 525.39,351.43 C531.29,355.77 531.36,355.75 536.73,360.72 C542.71,366.24 541.96,367.08 548.08,372.41 C553.31,376.98 553.65,376.62 559.42,380.51 C564.99,384.26 565.20,383.96 570.77,387.71 C576.54,391.59 576.33,391.91 582.11,395.78 C587.67,399.51 587.72,399.45 593.45,402.91 C599.06,406.29 601.91,403.97 604.80,409.47 C613.25,425.57 608.65,428.68 616.14,446.10 C619.99,455.05 622.52,453.73 627.48,462.22 C633.87,473.13 632.06,474.30 638.83,484.89 C643.40,492.05 643.88,492.01 650.17,497.72 C655.22,502.30 655.44,502.41 661.52,505.48 C666.79,508.13 667.25,507.14 672.86,509.16 C678.60,511.23 678.33,512.83 684.20,513.65 C689.68,514.41 689.87,514.08 695.55,514.41 C701.22,514.73 701.22,514.95 706.89,514.95 C712.56,514.95 712.57,514.95 718.23,514.95 C723.91,514.95 723.90,515.50 729.58,515.50 C735.25,515.50 740.92,515.50 740.92,515.50" fill="none" stroke="#f23645" stroke-width="2.5" stroke-linejoin="round"/>
<line x1="740.92" x2="740.92" y1="485.6" y2="150" stroke="#f7283a" stroke-width="2.5" stroke-dasharray="10 5"/>
<line x1="740.92" x2="740.92" y1="515.6" y2="488" stroke="#f7283a" stroke-width="1.4" stroke-dasharray="10 5"/>
<path d="M740.92,140.4 L748.02,160.3 L740.92,155.3 L733.82,160.3 Z" fill="#f7283a"/>
<text x="89.9" y="144.45" text-anchor="end" style="font-family:'Liberation Sans',sans-serif;font-size:15px;fill:#a9acb1;stroke:#a9acb1;stroke-width:0.45px" textLength="39.8" lengthAdjust="spacingAndGlyphs">2.45M</text>
<text x="89.9" y="214.64999999999998" text-anchor="end" style="font-family:'Liberation Sans',sans-serif;font-size:15px;fill:#a9acb1;stroke:#a9acb1;stroke-width:0.45px" textLength="39.8" lengthAdjust="spacingAndGlyphs">2.00M</text>
<text x="89.9" y="290.95" text-anchor="end" style="font-family:'Liberation Sans',sans-serif;font-size:15px;fill:#a9acb1;stroke:#a9acb1;stroke-width:0.45px" textLength="39.8" lengthAdjust="spacingAndGlyphs">1.50M</text>
<text x="89.9" y="367.34999999999997" text-anchor="end" style="font-family:'Liberation Sans',sans-serif;font-size:15px;fill:#a9acb1;stroke:#a9acb1;stroke-width:0.45px" textLength="39.8" lengthAdjust="spacingAndGlyphs">1.00M</text>
<text x="89.9" y="443.65" text-anchor="end" style="font-family:'Liberation Sans',sans-serif;font-size:15px;fill:#a9acb1;stroke:#a9acb1;stroke-width:0.45px" textLength="54.8" lengthAdjust="spacingAndGlyphs">500.00K</text>
<text x="89.9" y="519.45" text-anchor="end" style="font-family:'Liberation Sans',sans-serif;font-size:15px;fill:#a9acb1;stroke:#a9acb1;stroke-width:0.45px" textLength="37.8" lengthAdjust="spacingAndGlyphs">3.03K</text>
<text x="1380.8" y="144.45" text-anchor="start" style="font-family:'Liberation Sans',sans-serif;font-size:15px;fill:#a9acb1;stroke:#a9acb1;stroke-width:0.45px" textLength="47.6" lengthAdjust="spacingAndGlyphs">22.90M</text>
<text x="1380.8" y="192.04999999999998" text-anchor="start" style="font-family:'Liberation Sans',sans-serif;font-size:15px;fill:#a9acb1;stroke:#a9acb1;stroke-width:0.45px" textLength="47.6" lengthAdjust="spacingAndGlyphs">20.00M</text>
<text x="1380.8" y="273.75" text-anchor="start" style="font-family:'Liberation Sans',sans-serif;font-size:15px;fill:#a9acb1;stroke:#a9acb1;stroke-width:0.45px" textLength="47.6" lengthAdjust="spacingAndGlyphs">15.00M</text>
<text x="1380.8" y="355.95" text-anchor="start" style="font-family:'Liberation Sans',sans-serif;font-size:15px;fill:#a9acb1;stroke:#a9acb1;stroke-width:0.45px" textLength="47.6" lengthAdjust="spacingAndGlyphs">10.00M</text>
<text x="1380.8" y="437.55" text-anchor="start" style="font-family:'Liberation Sans',sans-serif;font-size:15px;fill:#a9acb1;stroke:#a9acb1;stroke-width:0.45px" textLength="39.8" lengthAdjust="spacingAndGlyphs">5.00M</text>
<text x="1380.8" y="519.45" text-anchor="start" style="font-family:'Liberation Sans',sans-serif;font-size:15px;fill:#a9acb1;stroke:#a9acb1;stroke-width:0.45px" textLength="7.5" lengthAdjust="spacingAndGlyphs">0</text>
<text x="105.67" y="538.0" text-anchor="middle" style="font-family:'Liberation Sans',sans-serif;font-size:15px;fill:#a9acb1;stroke:#a9acb1;stroke-width:0.45px" textLength="35.0" lengthAdjust="spacingAndGlyphs">0.422</text>
<text x="162.39" y="538.0" text-anchor="middle" style="font-family:'Liberation Sans',sans-serif;font-size:15px;fill:#a9acb1;stroke:#a9acb1;stroke-width:0.45px" textLength="35.0" lengthAdjust="spacingAndGlyphs">0.427</text>
<text x="219.11" y="538.0" text-anchor="middle" style="font-family:'Liberation Sans',sans-serif;font-size:15px;fill:#a9acb1;stroke:#a9acb1;stroke-width:0.45px" textLength="35.0" lengthAdjust="spacingAndGlyphs">0.432</text>
<text x="275.83" y="538.0" text-anchor="middle" style="font-family:'Liberation Sans',sans-serif;font-size:15px;fill:#a9acb1;stroke:#a9acb1;stroke-width:0.45px" textLength="35.0" lengthAdjust="spacingAndGlyphs">0.437</text>
<text x="332.55" y="538.0" text-anchor="middle" style="font-family:'Liberation Sans',sans-serif;font-size:15px;fill:#a9acb1;stroke:#a9acb1;stroke-width:0.45px" textLength="35.0" lengthAdjust="spacingAndGlyphs">0.442</text>
<text x="389.27" y="538.0" text-anchor="middle" style="font-family:'Liberation Sans',sans-serif;font-size:15px;fill:#a9acb1;stroke:#a9acb1;stroke-width:0.45px" textLength="35.0" lengthAdjust="spacingAndGlyphs">0.447</text>
<text x="445.98" y="538.0" text-anchor="middle" style="font-family:'Liberation Sans',sans-serif;font-size:15px;fill:#a9acb1;stroke:#a9acb1;stroke-width:0.45px" textLength="35.0" lengthAdjust="spacingAndGlyphs">0.452</text>
<text x="502.70" y="538.0" text-anchor="middle" style="font-family:'Liberation Sans',sans-serif;font-size:15px;fill:#a9acb1;stroke:#a9acb1;stroke-width:0.45px" textLength="35.0" lengthAdjust="spacingAndGlyphs">0.457</text>
<text x="559.42" y="538.0" text-anchor="middle" style="font-family:'Liberation Sans',sans-serif;font-size:15px;fill:#a9acb1;stroke:#a9acb1;stroke-width:0.45px" textLength="35.0" lengthAdjust="spacingAndGlyphs">0.462</text>
<text x="616.14" y="538.0" text-anchor="middle" style="font-family:'Liberation Sans',sans-serif;font-size:15px;fill:#a9acb1;stroke:#a9acb1;stroke-width:0.45px" textLength="35.0" lengthAdjust="spacingAndGlyphs">0.467</text>
<text x="672.86" y="538.0" text-anchor="middle" style="font-family:'Liberation Sans',sans-serif;font-size:15px;fill:#a9acb1;stroke:#a9acb1;stroke-width:0.45px" textLength="35.0" lengthAdjust="spacingAndGlyphs">0.472</text>
<text x="729.58" y="538.0" text-anchor="middle" style="font-family:'Liberation Sans',sans-serif;font-size:15px;fill:#a9acb1;stroke:#a9acb1;stroke-width:0.45px" textLength="27.4" lengthAdjust="spacingAndGlyphs">0.48</text>
<text x="786.30" y="538.0" text-anchor="middle" style="font-family:'Liberation Sans',sans-serif;font-size:15px;fill:#a9acb1;stroke:#a9acb1;stroke-width:0.45px" textLength="35.0" lengthAdjust="spacingAndGlyphs">0.485</text>
<text x="843.02" y="538.0" text-anchor="middle" style="font-family:'Liberation Sans',sans-serif;font-size:15px;fill:#a9acb1;stroke:#a9acb1;stroke-width:0.45px" textLength="27.4" lengthAdjust="spacingAndGlyphs">0.49</text>
<text x="899.73" y="538.0" text-anchor="middle" style="font-family:'Liberation Sans',sans-serif;font-size:15px;fill:#a9acb1;stroke:#a9acb1;stroke-width:0.45px" textLength="35.0" lengthAdjust="spacingAndGlyphs">0.495</text>
<text x="956.45" y="538.0" text-anchor="middle" style="font-family:'Liberation Sans',sans-serif;font-size:15px;fill:#a9acb1;stroke:#a9acb1;stroke-width:0.45px" textLength="19.6" lengthAdjust="spacingAndGlyphs">0.5</text>
<text x="1013.17" y="538.0" text-anchor="middle" style="font-family:'Liberation Sans',sans-serif;font-size:15px;fill:#a9acb1;stroke:#a9acb1;stroke-width:0.45px" textLength="35.0" lengthAdjust="spacingAndGlyphs">0.505</text>
<text x="1069.89" y="538.0" text-anchor="middle" style="font-family:'Liberation Sans',sans-serif;font-size:15px;fill:#a9acb1;stroke:#a9acb1;stroke-width:0.45px" textLength="27.4" lengthAdjust="spacingAndGlyphs">0.51</text>
<text x="1126.61" y="538.0" text-anchor="middle" style="font-family:'Liberation Sans',sans-serif;font-size:15px;fill:#a9acb1;stroke:#a9acb1;stroke-width:0.45px" textLength="35.0" lengthAdjust="spacingAndGlyphs">0.515</text>
<text x="1183.33" y="538.0" text-anchor="middle" style="font-family:'Liberation Sans',sans-serif;font-size:15px;fill:#a9acb1;stroke:#a9acb1;stroke-width:0.45px" textLength="27.4" lengthAdjust="spacingAndGlyphs">0.52</text>
<text x="1240.05" y="538.0" text-anchor="middle" style="font-family:'Liberation Sans',sans-serif;font-size:15px;fill:#a9acb1;stroke:#a9acb1;stroke-width:0.45px" textLength="35.0" lengthAdjust="spacingAndGlyphs">0.525</text>
<text x="1296.77" y="538.0" text-anchor="middle" style="font-family:'Liberation Sans',sans-serif;font-size:15px;fill:#a9acb1;stroke:#a9acb1;stroke-width:0.45px" textLength="27.4" lengthAdjust="spacingAndGlyphs">0.53</text>
<text x="1353.48" y="538.0" text-anchor="middle" style="font-family:'Liberation Sans',sans-serif;font-size:15px;fill:#a9acb1;stroke:#a9acb1;stroke-width:0.45px" textLength="35.0" lengthAdjust="spacingAndGlyphs">0.536</text>
<rect x="337.1" y="99.1" width="12.6" height="12.6" fill="#22ab94"/>
<text y="110.9" style="font-family:'Liberation Sans',sans-serif;font-size:16px;fill:#e6e8ea;stroke:#e6e8ea;stroke-width:0.2px"><tspan x="355.2" textLength="77.1" lengthAdjust="spacingAndGlyphs">Cumulative</tspan> <tspan x="434.9" textLength="38.0" lengthAdjust="spacingAndGlyphs">Short</tspan> <tspan x="475.4" textLength="75.5" lengthAdjust="spacingAndGlyphs">Liquidation</tspan> <tspan x="554.0" textLength="61.1" lengthAdjust="spacingAndGlyphs">Leverage</tspan></text>
<rect x="630.7" y="99.1" width="12.6" height="12.6" fill="#f23645"/>
<text y="110.9" style="font-family:'Liberation Sans',sans-serif;font-size:16px;fill:#e6e8ea;stroke:#e6e8ea;stroke-width:0.2px"><tspan x="649.0" textLength="77.2" lengthAdjust="spacingAndGlyphs">Cumulative</tspan> <tspan x="728.5" textLength="33.3" lengthAdjust="spacingAndGlyphs">Long</tspan> <tspan x="764.3" textLength="75.2" lengthAdjust="spacingAndGlyphs">Liquidation</tspan> <tspan x="842.4" textLength="61.8" lengthAdjust="spacingAndGlyphs">Leverage</tspan></text>
<rect x="919.8" y="99.1" width="12.6" height="12.6" fill="#ff8800"/>
<text y="110.9" style="font-family:'Liberation Sans',sans-serif;font-size:16px;fill:#e6e8ea;stroke:#e6e8ea;stroke-width:0.2px"><tspan x="938.6" textLength="54.6" lengthAdjust="spacingAndGlyphs">Binance</tspan></text>
<rect x="1009.5" y="99.1" width="12.6" height="12.6" fill="#ffc400"/>
<text y="110.9" style="font-family:'Liberation Sans',sans-serif;font-size:16px;fill:#e6e8ea;stroke:#e6e8ea;stroke-width:0.2px"><tspan x="1027.6" textLength="30.1" lengthAdjust="spacingAndGlyphs">OKX</tspan></text>
<rect x="1073.5" y="99.1" width="12.6" height="12.6" fill="#93dce2"/>
<text y="110.9" style="font-family:'Liberation Sans',sans-serif;font-size:16px;fill:#e6e8ea;stroke:#e6e8ea;stroke-width:0.2px"><tspan x="1091.6" textLength="36.1" lengthAdjust="spacingAndGlyphs">Bybit</tspan></text>
<text x="740.92" y="130.5" text-anchor="middle" style="font-family:'Liberation Sans',sans-serif;font-size:16px;fill:#e6e8ea;stroke:#e6e8ea;stroke-width:0.2px" textLength="120.5" lengthAdjust="spacingAndGlyphs">Current Price:0.48</text>
<path d="M1237.8,467.9 L1239.9,470.4 Q1244.2,469.4 1248.4,470.4 L1250.5,467.9 L1252.1,471.5 Q1256.0,472.4 1258.5,476.6 Q1256.6,478.4 1255.2,477.8 L1255.2,481 L1254.6,489 L1252.0,493.6 L1245.7,493.4 L1236.4,492.7 Q1235.2,490.4 1236.2,488.0 Q1237.4,486.6 1236.6,485.4 Q1234.6,482 1234.0,477.8 Q1232.2,478.4 1229.9,476.6 Q1232.4,472.4 1236.4,471.5 Z" fill="#a9abb0"/>
<path d="M1247.0,480.8 L1254.7,480.6 L1254.0,488.3 L1252.0,493.6 L1247.3,493.6 Z" fill="#dff1f5" fill-opacity="0.92"/>
<path d="M1239.2,493 L1243.6,493.2 L1243.2,499 L1240.4,499.4 L1236.6,499.6 L1239.0,496.6 Z" fill="#e9ecea" fill-opacity="0.85"/>
<path d="M1247.4,493.6 L1250.6,493.6 L1250.0,499.2 L1247.8,499.2 Z" fill="#f0e4cf" fill-opacity="0.85"/>
<text x="1265.5" y="491.1" style="font-family:'Liberation Sans',sans-serif;font-weight:700;font-size:22px;fill:#adafb3;stroke:#adafb3;stroke-width:0.35px" textLength="89.4" lengthAdjust="spacingAndGlyphs">coinglass</text>
</svg>
<svg width="400" height="80" viewBox="0 0 400 80" style="position:absolute;left:0;top:0">
<text y="59.1" style="font-family:'Liberation Sans',sans-serif;font-weight:700;font-size:24px;fill:#ffffff"><tspan x="8.5" textLength="52.2" lengthAdjust="spacingAndGlyphs">ADA</tspan> <tspan x="67.0" textLength="106.6" lengthAdjust="spacingAndGlyphs">Exchange</tspan> <tspan x="179.4" textLength="126.6" lengthAdjust="spacingAndGlyphs">Liquidation</tspan> <tspan x="311.4" textLength="52.2" lengthAdjust="spacingAndGlyphs">Map</tspan></text>
</svg>
</body></html>
